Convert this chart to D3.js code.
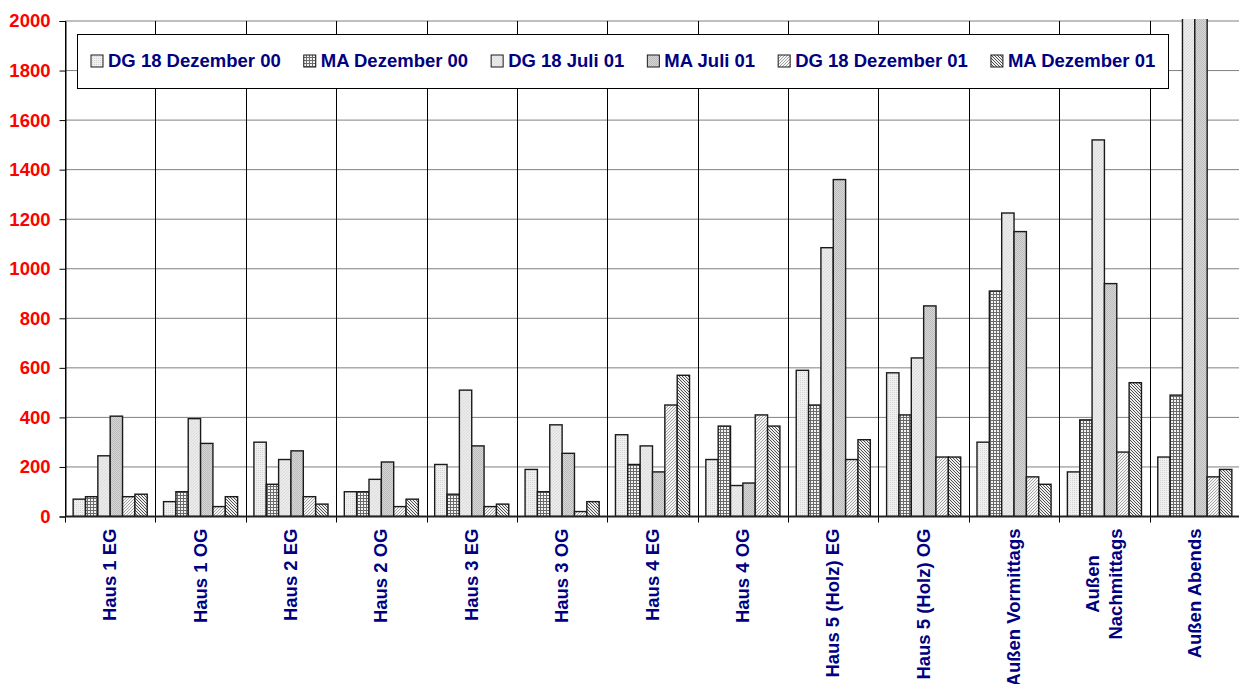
<!DOCTYPE html>
<html>
<head>
<meta charset="utf-8">
<script src="https://cdn.jsdelivr.net/npm/d3@7"></script>
<style>
  body { margin: 0; background: #fff; }
  text { font-family: "Liberation Sans", Arial, sans-serif; font-weight: bold; }
</style>
</head>
<body>
<div id="container"></div>
<script>
// categories along the x axis ("\n" = line break in the label)
const categories = ["Haus 1 EG", "Haus 1 OG", "Haus 2 EG", "Haus 2 OG", "Haus 3 EG", "Haus 3 OG",
    "Haus 4 EG", "Haus 4 OG", "Haus 5 (Holz) EG", "Haus 5 (Holz) OG", "Außen Vormittags",
    "Außen\nNachmittags", "Außen Abends"];

// series names (legend order)
const seriesNames = ["DG 18 Dezember 00", "MA Dezember 00", "DG 18 Juli 01", "MA Juli 01",
    "DG 18 Dezember 01", "MA Dezember 01"];

// values, one per category
const dg18Dez00 = [70, 60, 300, 100, 210, 190, 330, 230, 590, 580, 300, 180, 240];
const maDez00   = [80, 100, 130, 100, 90, 100, 210, 365, 450, 410, 910, 390, 490];
const dg18Jul01 = [245, 395, 230, 150, 510, 370, 285, 125, 1085, 640, 1225, 1520, 2500];
const maJul01   = [405, 295, 265, 220, 285, 255, 180, 135, 1360, 850, 1150, 940, 2300];
const dg18Dez01 = [80, 40, 80, 40, 40, 20, 450, 410, 230, 240, 160, 260, 160];
const maDez01   = [90, 80, 50, 70, 50, 60, 570, 365, 310, 240, 130, 540, 190];

const yTicks = [0, 200, 400, 600, 800, 1000, 1200, 1400, 1600, 1800, 2000];

const seriesValues = [dg18Dez00, maDez00, dg18Jul01, maJul01, dg18Dez01, maDez01];

const width = 1239;
const height = 684;
const plotLeft = 65;
const plotRight = 1240;
const plotTop = 21;
const plotBottom = 516.5;
const navy = "#000080";
const fontSize = 18.5;

const svg = d3.select("#container")
    .append("svg")
    .attr("width", width)
    .attr("height", height);

// hatch patterns, one per series
const defs = svg.append("defs");
function pattern(id, size, bg, draw) {
    const p = defs.append("pattern")
        .attr("id", id)
        .attr("patternUnits", "userSpaceOnUse")
        .attr("width", size)
        .attr("height", size);
    p.append("rect").attr("width", size).attr("height", size).attr("fill", bg);
    draw(p);
}
pattern("p0", 2, "#f0f0f0", p => p.append("rect").attr("width", 1).attr("height", 1)
    .attr("fill", "#d4d4d4"));
pattern("p1", 3, "#f4f4f4", p => p.append("path").attr("d", "M0 0.5H3M0.5 0V3")
    .attr("stroke", "#6a6a6a").attr("stroke-width", 1));
pattern("p2", 3, "#ebebeb", p => p.append("path").attr("d", "M-1 1L1 -1M0 3L3 0M2 4L4 2")
    .attr("stroke", "#dcdcdc").attr("stroke-width", 1));
pattern("p3", 2, "#d6d6d6", p => {
    p.append("rect").attr("width", 1).attr("height", 1).attr("fill", "#bcbcbc");
    p.append("rect").attr("x", 1).attr("y", 1).attr("width", 1).attr("height", 1).attr("fill", "#bcbcbc");
});
pattern("p4", 3, "#f6f6f6", p => p.append("path").attr("d", "M-1 1L1 -1M0 3L3 0M2 4L4 2")
    .attr("stroke", "#9a9a9a").attr("stroke-width", 0.9));
pattern("p5", 3, "#eeeeee", p => p.append("path").attr("d", "M-1 2L1 4M0 0L3 3M2 -1L4 1")
    .attr("stroke", "#505050").attr("stroke-width", 1));

const x = d3.scaleBand()
    .domain(categories)
    .range([plotLeft, plotRight]);

const xSub = d3.scaleBand()
    .domain(d3.range(seriesNames.length))
    .range([0, x.bandwidth()])
    .paddingOuter(0.66);

const y = d3.scaleLinear()
    .domain([0, 2000])
    .range([plotBottom, plotTop]);

// horizontal gridlines
svg.append("g")
    .selectAll("line")
    .data(yTicks.slice(1))
    .join("line")
    .attr("x1", plotLeft)
    .attr("x2", plotRight)
    .attr("y1", d => y(d))
    .attr("y2", d => y(d))
    .attr("stroke", "#808080")
    .attr("stroke-width", 1);

// vertical gridlines at category boundaries (with tick below axis)
const bounds = categories.map(c => x(c)).concat([plotRight]);
svg.append("g")
    .selectAll("line")
    .data(bounds)
    .join("line")
    .attr("x1", d => Math.round(d) + 0.5)
    .attr("x2", d => Math.round(d) + 0.5)
    .attr("y1", plotTop)
    .attr("y2", plotBottom + 6)
    .attr("stroke", "#000")
    .attr("stroke-width", 1);

// y axis
const yAxis = svg.append("g")
    .attr("transform", `translate(${plotLeft + 0.5},0)`)
    .call(d3.axisLeft(y).tickValues(yTicks).tickFormat(d3.format("d")).tickSize(6).tickPadding(9));
yAxis.select(".domain").attr("stroke", "#000");
yAxis.selectAll(".tick line").attr("stroke", "#000");
yAxis.selectAll(".tick text")
    .attr("fill", "#ff0000")
    .attr("font-size", fontSize)
    .attr("font-family", "'Liberation Sans', Arial, sans-serif")
    .attr("font-weight", "bold");

// bars, clipped at the top of the plot
defs.append("clipPath").attr("id", "plotclip")
    .append("rect")
    .attr("x", plotLeft)
    .attr("y", plotTop - 2)
    .attr("width", plotRight - plotLeft)
    .attr("height", plotBottom - plotTop + 2);

const barG = svg.append("g").attr("clip-path", "url(#plotclip)");
seriesValues.forEach((vals, s) => {
    barG.append("g")
        .selectAll("rect")
        .data(vals)
        .join("rect")
        .attr("x", (d, i) => x(categories[i]) + xSub(s))
        .attr("y", d => y(d))
        .attr("width", xSub.bandwidth())
        .attr("height", d => plotBottom - y(d))
        .attr("fill", `url(#p${s})`)
        .attr("stroke", "#1a1a1a")
        .attr("stroke-width", 1.4);
});

// bottom axis line
svg.append("line")
    .attr("x1", plotLeft)
    .attr("x2", plotRight)
    .attr("y1", plotBottom)
    .attr("y2", plotBottom)
    .attr("stroke", "#222")
    .attr("stroke-width", 2);

// x labels, rotated, top-aligned, lines centred on each other
const lineH = 23;
categories.forEach(c => {
    const lines = c.split("\n");
    const cx = x(c) + x.bandwidth() / 2;
    const t = svg.append("text")
        .attr("fill", navy)
        .attr("font-size", fontSize)
        .attr("text-anchor", "middle");
    lines.forEach((ln, i) => {
        t.append("tspan")
            .attr("x", 0)
            .attr("y", (i - (lines.length - 1) / 2) * lineH)
            .attr("dy", "0.33em")
            .text(ln);
    });
    let maxW = 0;
    t.selectAll("tspan").each(function() {
        maxW = Math.max(maxW, this.getComputedTextLength());
    });
    t.attr("transform", `translate(${cx},${plotBottom + 12 + maxW / 2}) rotate(-90)`);
});

// legend
const legend = svg.append("g");
legend.append("rect")
    .attr("x", 77.5)
    .attr("y", 34.5)
    .attr("width", 1091)
    .attr("height", 54)
    .attr("fill", "#fff")
    .attr("stroke", "#000")
    .attr("stroke-width", 1);

let lx = 91;
seriesNames.forEach((name, s) => {
    legend.append("rect")
        .attr("x", lx)
        .attr("y", 55)
        .attr("width", 12)
        .attr("height", 12)
        .attr("fill", `url(#p${s})`)
        .attr("stroke", "#1a1a1a")
        .attr("stroke-width", 1);
    const t = legend.append("text")
        .attr("x", lx + 17)
        .attr("y", 61)
        .attr("dy", "0.35em")
        .attr("fill", navy)
        .attr("font-size", fontSize)
        .text(name);
    lx += 17 + t.node().getComputedTextLength() + 23;
});
</script>
</body>
</html>
